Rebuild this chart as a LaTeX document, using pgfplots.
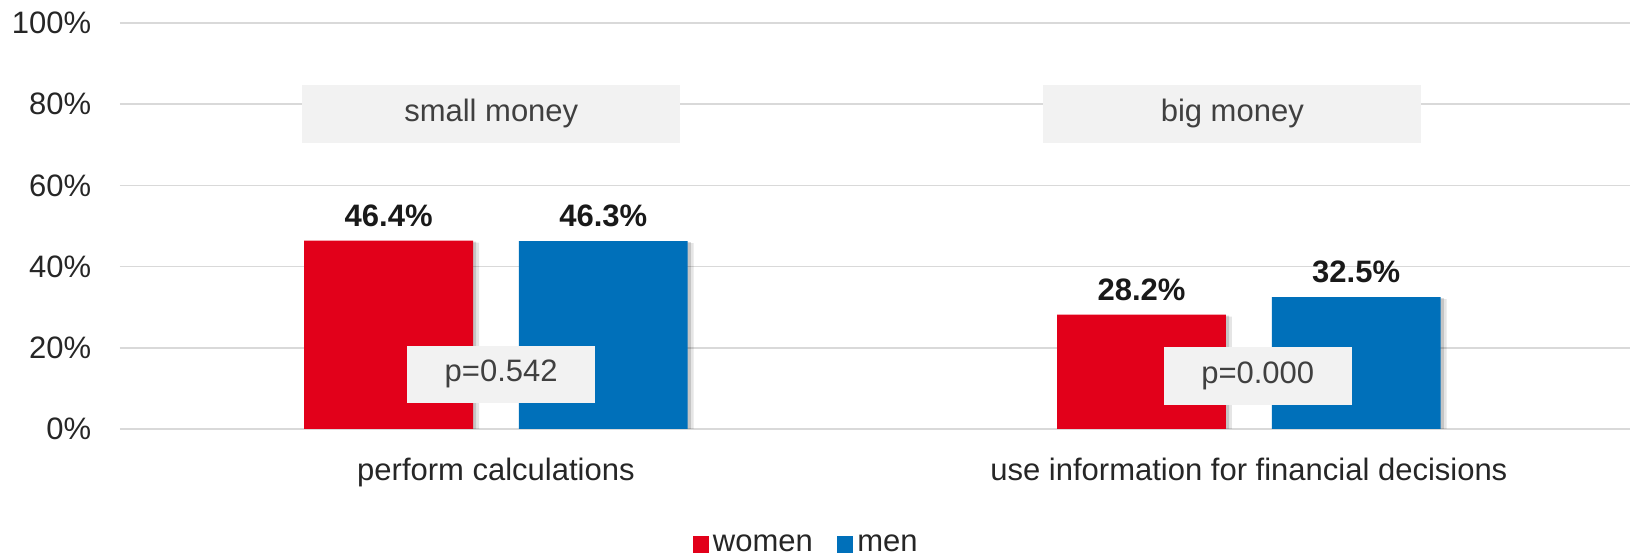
\documentclass[border=0pt]{standalone}
\usepackage{fontspec}
\setmainfont{Liberation Sans}
\usepackage{pgfplots}
\pgfplotsset{compat=1.18}
\usetikzlibrary{shadows}
\definecolor{wred}{HTML}{E2001A}
\definecolor{mblue}{HTML}{0070BA}
\definecolor{gridc}{HTML}{D9D9D9}
\definecolor{boxc}{HTML}{F2F2F2}
\definecolor{txt}{HTML}{262626}
\definecolor{boxtxt}{HTML}{404040}
\begin{document}
\fontsize{15.5pt}{18pt}\selectfont
\begin{tikzpicture}
\useasboundingbox (-60pt,-63pt) rectangle (756.5pt,214.5pt);
\begin{axis}[
  at={(0pt,0pt)}, anchor=south west,
  scale only axis, width=755pt, height=203pt,
  xmin=-0.4993, xmax=1.5062, ymin=0, ymax=100,
  ybar=22.9pt, bar width=84.4pt,
  xtick={0,1}, xticklabels={perform calculations, use information for financial decisions},
  ytick={0,20,...,100},
  yticklabel={\pgfmathprintnumber{\tick}\%},
  /pgf/number format/assume math mode=true,
  ymajorgrids, grid style={gridc, line width=0.8pt},
  axis line style={draw=none},
  major tick length=0pt,
  tick label style={text=txt},
  yticklabel style={xshift=-9pt},
  xticklabel style={yshift=-9pt},
  nodes near coords={\pgfmathprintnumber[fixed,precision=1,fixed zerofill]{\pgfplotspointmeta}\%},
  every node near coord/.append style={font=\bfseries, text=black!90, yshift=1.5pt},
  legend style={at={(0.455,-0.287)}, anchor=center, draw=none, legend columns=2,
    /tikz/every even column/.append style={column sep=10pt}, text=txt},
  barshadow/.style={
    drop shadow={shadow xshift=3pt, shadow yshift=-1pt, fill=black, opacity=0.10},
    drop shadow={shadow xshift=1.6pt, shadow yshift=-0.5pt, fill=black, opacity=0.14}},
]
\addplot[fill=wred, draw=none, forget plot, bar shift=-53.65pt, barshadow]
  coordinates {(0,46.4) (1,28.2)};
\addplot[fill=mblue, draw=none, forget plot, bar shift=53.65pt, barshadow]
  coordinates {(0,46.3) (1,32.5)};
\addlegendimage{legend image code/.code={\fill[wred] (-2pt,-3.2pt) rectangle (5.8pt,4.6pt);}}
\addlegendimage{legend image code/.code={\fill[mblue] (-2pt,-3.2pt) rectangle (5.8pt,4.6pt);}}
\legend{women, men}
\node[fill=boxc, text=boxtxt, minimum width=189pt, minimum height=29pt, inner sep=0pt] at (axis cs:-0.0062,77.7) {small money};
\node[fill=boxc, text=boxtxt, minimum width=189pt, minimum height=29pt, inner sep=0pt] at (axis cs:0.978,77.7) {big money};
\node[fill=boxc, text=boxtxt, minimum width=94pt, minimum height=28.6pt, inner sep=0pt] at (axis cs:0.0069,13.45) {p=0.542};
\node[fill=boxc, text=boxtxt, minimum width=94pt, minimum height=28.6pt, inner sep=0pt] at (axis cs:1.0118,13.05) {p=0.000};
\end{axis}
\end{tikzpicture}
\end{document}
